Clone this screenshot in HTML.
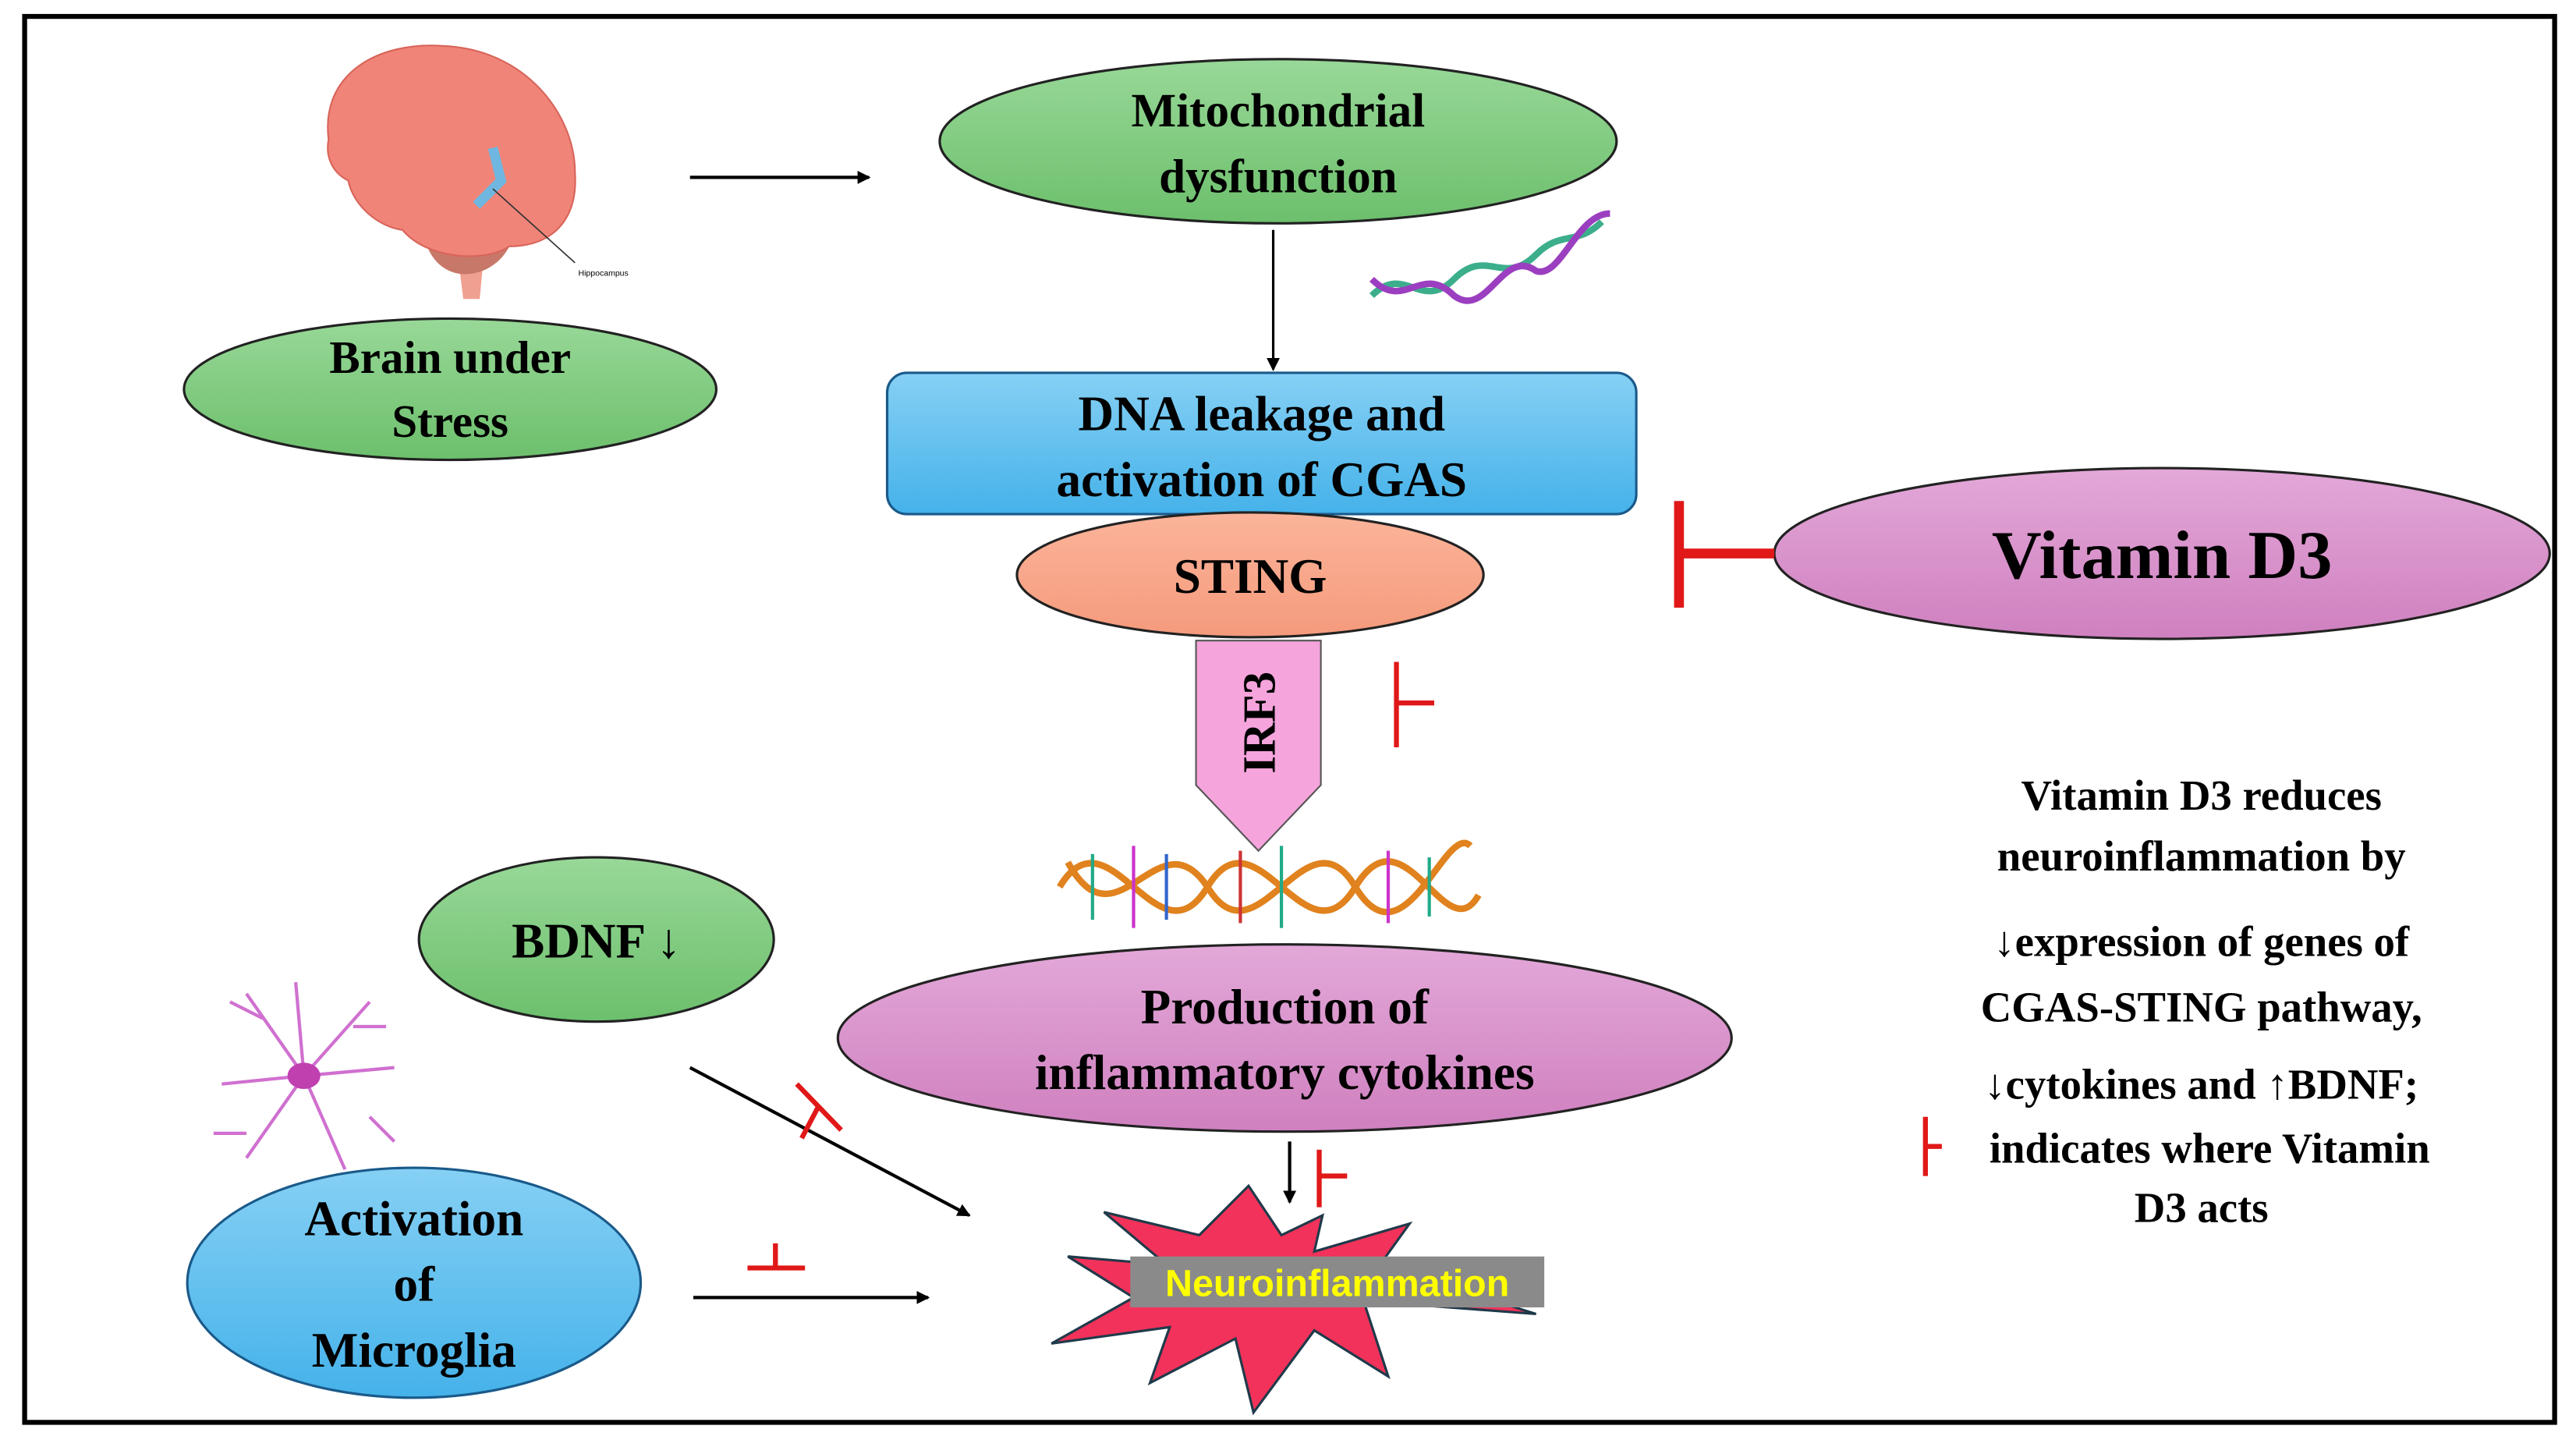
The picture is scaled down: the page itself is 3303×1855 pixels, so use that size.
<!DOCTYPE html>
<html><head><meta charset="utf-8"><style>html,body{margin:0;padding:0;background:#fff}svg{display:block}</style></head>
<body>
<svg width="3303" height="1855" viewBox="0 0 1568 881" preserveAspectRatio="none" xmlns="http://www.w3.org/2000/svg" font-family="Liberation Serif, serif" font-weight="bold">
<defs>
<linearGradient id="g" x1="0" y1="0" x2="0" y2="1"><stop offset="0" stop-color="#98d898"/><stop offset="1" stop-color="#6cbf6c"/></linearGradient>
<linearGradient id="b" x1="0" y1="0" x2="0" y2="1"><stop offset="0" stop-color="#86d0f4"/><stop offset="1" stop-color="#45b2ea"/></linearGradient>
<linearGradient id="p" x1="0" y1="0" x2="0" y2="1"><stop offset="0" stop-color="#e3a8d8"/><stop offset="1" stop-color="#cf80bf"/></linearGradient>
<linearGradient id="s" x1="0" y1="0" x2="0" y2="1"><stop offset="0" stop-color="#fbb49a"/><stop offset="1" stop-color="#f59a7c"/></linearGradient>
<marker id="a" markerWidth="8" markerHeight="8" refX="7" refY="4" orient="auto" markerUnits="userSpaceOnUse"><path d="M0,0 L8,4 L0,8 z" fill="#000"/></marker>
</defs>
<rect x="15" y="10" width="1540" height="856" fill="#fff" stroke="#000" stroke-width="3"/>
<!-- brain -->
<path d="M278,150 L282,182 L292,182 L295,150 z" fill="#f0a090"/>
<path d="M260,150 C270,175 300,170 310,150 C300,140 270,140 260,150 z" fill="#c87868"/>
<path d="M200,85 C195,45 230,25 270,28 C320,30 350,70 350,105 C352,135 335,150 310,150 C295,160 260,158 245,140 C230,138 215,125 212,110 C202,105 198,95 200,85 z" fill="#f08478" stroke="#d8645a" stroke-width="1"/>
<path d="M300,90 L305,110 L290,125" stroke="#6fb7e0" stroke-width="6" fill="none"/>
<line x1="300" y1="115" x2="350" y2="160" stroke="#333" stroke-width="0.8"/>
<text x="352" y="168" font-size="5" font-family="Liberation Sans, sans-serif" font-weight="normal">Hippocampus</text>
<ellipse cx="274" cy="237" rx="162" ry="43" fill="url(#g)" stroke="#222" stroke-width="1.5"/>
<text x="274" y="227" font-size="28" text-anchor="middle">Brain under</text>
<text x="274" y="266" font-size="28" text-anchor="middle">Stress</text>
<line x1="420" y1="108" x2="529" y2="108" stroke="#000" stroke-width="2" marker-end="url(#a)"/>
<ellipse cx="778" cy="86" rx="206" ry="50" fill="url(#g)" stroke="#222" stroke-width="1.5"/>
<text x="778" y="77" font-size="29" text-anchor="middle">Mitochondrial</text>
<text x="778" y="117" font-size="29" text-anchor="middle">dysfunction</text>
<line x1="775" y1="140" x2="775" y2="225" stroke="#000" stroke-width="1.5" marker-end="url(#a)"/>
<g fill="none" stroke-width="4">
<path d="M835,180 C855,160 865,190 885,170 C905,150 915,175 935,155 C950,140 960,150 975,135" stroke="#3cae8c"/>
<path d="M835,170 C855,190 865,160 885,180 C905,195 915,150 935,165 C950,170 960,130 980,130" stroke="#9b3fc0"/>
</g>
<rect x="540" y="227" width="456" height="86" rx="12" fill="url(#b)" stroke="#1a5a8a" stroke-width="1.5"/>
<text x="768" y="262" font-size="30" text-anchor="middle">DNA leakage and</text>
<text x="768" y="302" font-size="30" text-anchor="middle">activation of CGAS</text>
<ellipse cx="761" cy="350" rx="142" ry="38" fill="url(#s)" stroke="#222" stroke-width="1.5"/>
<text x="761" y="361" font-size="30" text-anchor="middle">STING</text>
<ellipse cx="1316" cy="337" rx="236" ry="52" fill="url(#p)" stroke="#222" stroke-width="1.5"/>
<text x="1316" y="352" font-size="42" text-anchor="middle">Vitamin D3</text>
<line x1="1022" y1="305" x2="1022" y2="370" stroke="#e01818" stroke-width="6"/>
<line x1="1022" y1="337" x2="1080" y2="337" stroke="#e01818" stroke-width="6"/>
<path d="M728,390 L804,390 L804,478 L766,518 L728,478 z" fill="#f5a4dc" stroke="#555" stroke-width="1"/>
<text x="0" y="0" font-size="28" text-anchor="middle" transform="translate(776,440) rotate(-90)">IRF3</text>
<line x1="850" y1="403" x2="850" y2="455" stroke="#e01818" stroke-width="3"/>
<line x1="850" y1="428" x2="873" y2="428" stroke="#e01818" stroke-width="3"/>
<g fill="none" stroke="#e0821e" stroke-width="4">
<path d="M645,540 C675,490 705,590 735,540 C765,490 795,590 825,540 C855,490 880,580 900,545"/>
<path d="M650,525 C680,580 705,495 735,540 C765,590 795,490 825,540 C855,590 880,500 895,515"/>
</g>
<g stroke-width="2">
<line x1="665" y1="520" x2="665" y2="560" stroke="#2a8"/><line x1="690" y1="515" x2="690" y2="565" stroke="#c3c"/>
<line x1="710" y1="520" x2="710" y2="560" stroke="#36c"/><line x1="755" y1="518" x2="755" y2="562" stroke="#c33"/>
<line x1="780" y1="515" x2="780" y2="565" stroke="#2a8"/><line x1="845" y1="518" x2="845" y2="562" stroke="#c3c"/>
<line x1="870" y1="522" x2="870" y2="558" stroke="#2a8"/>
</g>
<ellipse cx="782" cy="632" rx="272" ry="57" fill="url(#p)" stroke="#222" stroke-width="1.5"/>
<text x="782" y="623" font-size="30" text-anchor="middle">Production  of</text>
<text x="782" y="663" font-size="30" text-anchor="middle">inflammatory cytokines</text>
<ellipse cx="363" cy="572" rx="108" ry="50" fill="url(#g)" stroke="#222" stroke-width="1.5"/>
<text x="363" y="583" font-size="30" text-anchor="middle">BDNF ↓</text>
<g stroke="#d070d0" stroke-width="2" fill="none">
<path d="M185,655 L150,605 M185,655 L225,610 M185,655 L135,660 M185,655 L240,650 M185,655 L150,705 M185,655 L210,712 M185,655 L180,598 M160,620 L140,610 M215,625 L235,625 M150,690 L130,690 M225,680 L240,695"/>
</g>
<ellipse cx="185" cy="655" rx="10" ry="8" fill="#c040b0"/>
<ellipse cx="252" cy="781" rx="138" ry="70" fill="url(#b)" stroke="#1a5a8a" stroke-width="1.5"/>
<text x="252" y="752" font-size="30" text-anchor="middle">Activation</text>
<text x="252" y="792" font-size="30" text-anchor="middle">of</text>
<text x="252" y="832" font-size="30" text-anchor="middle">Microglia</text>
<line x1="420" y1="650" x2="590" y2="740" stroke="#000" stroke-width="2" marker-end="url(#a)"/>
<line x1="485" y1="660" x2="512" y2="688" stroke="#e01818" stroke-width="3"/>
<line x1="498" y1="674" x2="488" y2="693" stroke="#e01818" stroke-width="3"/>
<line x1="422" y1="790" x2="565" y2="790" stroke="#000" stroke-width="2" marker-end="url(#a)"/>
<line x1="455" y1="772" x2="490" y2="772" stroke="#e01818" stroke-width="3"/>
<line x1="472" y1="757" x2="472" y2="772" stroke="#e01818" stroke-width="3"/>
<line x1="785" y1="695" x2="785" y2="732" stroke="#000" stroke-width="2" marker-end="url(#a)"/>
<line x1="803" y1="700" x2="803" y2="735" stroke="#e01818" stroke-width="3"/>
<line x1="803" y1="716" x2="820" y2="716" stroke="#e01818" stroke-width="3"/>
<polygon points="672,738 730,752 760,722 780,752 805,740 800,762 858,745 840,770 935,800 830,792 845,838 800,810 763,860 752,815 700,842 712,808 640,818 690,790 650,765 710,770" fill="#f2325a" stroke="#1f3a4a" stroke-width="1.5"/>
<rect x="688" y="765" width="252" height="31" fill="#8a8a8a"/>
<text x="814" y="789" font-size="23" text-anchor="middle" fill="#ffff00" font-family="Liberation Sans, sans-serif">Neuroinflammation</text>
<g font-size="26" text-anchor="middle">
<text x="1340" y="493">Vitamin D3 reduces</text>
<text x="1340" y="530">neuroinflammation by</text>
<text x="1340" y="582">↓expression of genes of</text>
<text x="1340" y="622">CGAS-STING pathway,</text>
<text x="1340" y="669">↓cytokines and ↑BDNF;</text>
<text x="1345" y="708">indicates where Vitamin</text>
<text x="1340" y="744">D3 acts</text>
</g>
<line x1="1172" y1="680" x2="1172" y2="716" stroke="#e01818" stroke-width="3"/>
<line x1="1172" y1="698" x2="1182" y2="698" stroke="#e01818" stroke-width="3"/>
</svg>
</body></html>
